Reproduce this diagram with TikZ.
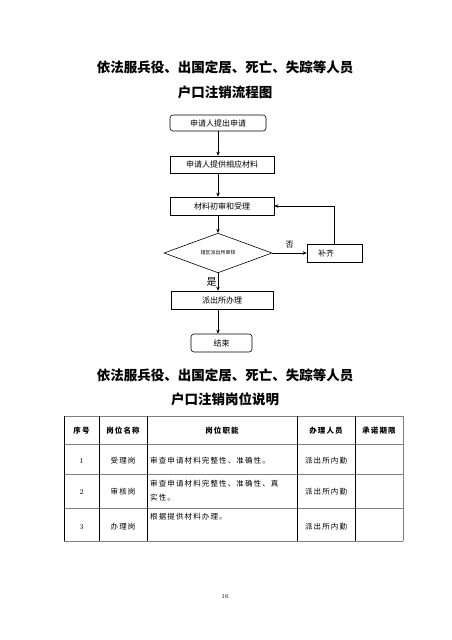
\documentclass[tikz,border=0pt]{standalone}
\usepackage{fontspec}
\newfontfamily\cjk{Noto Sans CJK SC}
\newfontfamily\cjktab[LetterSpace=15]{Noto Sans CJK SC}
\usetikzlibrary{arrows.meta, positioning, shapes.geometric}

\begin{document}
\begin{tikzpicture}[x=1pt, y=-1pt,
  box/.style={draw, line width=0.6pt, inner sep=0pt, font=\cjk\fontsize{8}{9}\selectfont},
  arr/.style={-{Stealth[length=4pt,width=3.5pt]}, line width=0.6pt},
  title/.style={font=\cjk\bfseries\fontsize{13.5}{15}\selectfont},
  cell/.style={inner sep=0pt, font=\cjktab\fontsize{7.5}{14}\selectfont},
  head/.style={inner sep=0pt, font=\cjktab\bfseries\fontsize{7.5}{10}\selectfont},
  num/.style={inner sep=0pt, font=\fontsize{7.5}{10}\selectfont}]

\fill[white] (0,0) rectangle (451,640);
\useasboundingbox (0,0) rectangle (451,640);

\node[title] (t1) at (225,67) {依法服兵役、出国定居、死亡、失踪等人员};
\node[title] (t2) at (225,92) {户口注销流程图};

\node[box, rounded corners=3pt, minimum width=96pt, minimum height=16pt] (apply) at (218,123) {申请人提出申请};
\node[box, minimum width=104pt, minimum height=17pt] (provide) at (222,164.5) {申请人提供相应材料};
\node[box, minimum width=104pt, minimum height=18pt] (accept) at (222,206) {材料初审和受理};
\node[box, diamond, minimum width=108pt, minimum height=30pt, font=\cjk\fontsize{5}{6}\selectfont] (check) at (218,253) {辖区派出所审核};
\node[box, minimum height=18pt, inner xsep=11pt, text width=33pt, align=left] (supply) at (334.5,253) {补齐};
\node[box, minimum width=102pt, minimum height=18pt] (handle) at (222,300) {派出所办理};
\node[box, rounded corners=3pt, minimum width=61pt, minimum height=18pt] (finish) at (221.5,343) {结束};

\draw[arr] (apply.south) -- (apply.south |- provide.north);
\draw[arr] (apply.south |- provide.south) -- (apply.south |- accept.north);
\draw[arr] (apply.south |- accept.south) -- (check.north);
\draw[arr] (check.east) -- node[above=1pt, font=\cjk\fontsize{8}{9}\selectfont] {否} (supply.west);
\draw[arr] (supply.north) |- (accept.east);
\draw[arr] (check.south) -- node[left, inner sep=1pt, font=\cjk\fontsize{10}{10}\selectfont] {是} (check.south |- handle.north);
\draw[arr] (check.south |- handle.south) -- (check.south |- finish.north);

\node[title] (t3) at (225,375) {依法服兵役、出国定居、死亡、失踪等人员};
\node[title] (t4) at (225,399) {户口注销岗位说明};

% table
\foreach \y in {416,444,474,508,541}
  \draw[gray, line width=0.8pt] (64,\y) -- (403,\y);
\foreach \x in {64,99,147,297,355}
  \draw[line width=0.8pt] (\x,416) -- (\x,541);
\draw[gray, line width=0.8pt] (403,416) -- (403,541);

\node[head] (h1) at (81.5,431) {序号};
\node[head] (h2) at (123,431) {岗位名称};
\node[head] (h3) at (222,431) {岗位职能};
\node[head] (h4) at (326,431) {办理人员};
\node[head] (h5) at (379,431) {承诺期限};

\node[num] (n1) at (81.5,461) {1};
\node[cell] (p1) at (123,461) {受理岗};
\node[cell, anchor=west] (f1) at (150,461) {审查申请材料完整性、准确性。};
\node[cell] (s1) at (326,461) {派出所内勤};

\node[num] (n2) at (81.5,492) {2};
\node[cell] (p2) at (123,492) {审核岗};
\node[cell, anchor=west, align=left] (f2) at (150,491) {审查申请材料完整性、准确性、真\\实性。};
\node[cell] (s2) at (326,492) {派出所内勤};

\node[num] (n3) at (81.5,527) {3};
\node[cell] (p3) at (123,527) {办理岗};
\node[cell, anchor=west] (f3) at (150,517) {根据提供材料办理。};
\node[cell] (s3) at (326,527) {派出所内勤};

\node[font=\fontsize{6}{7}\selectfont] (page) at (225,597) {16};
\end{tikzpicture}
\end{document}
